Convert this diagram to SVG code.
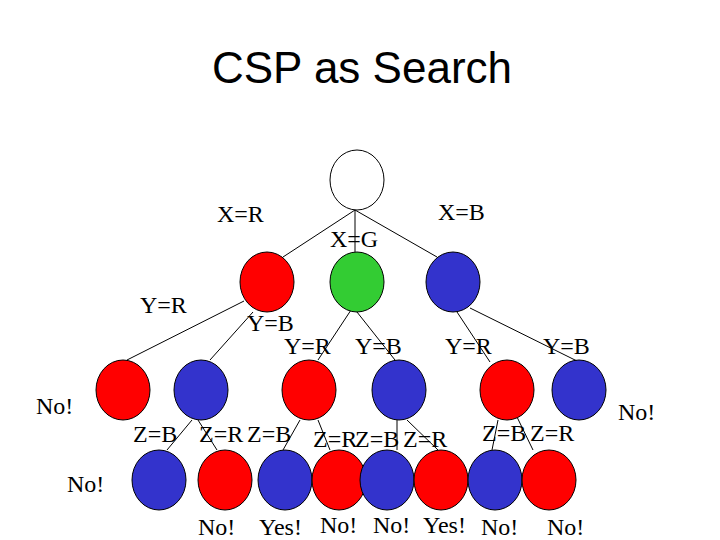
<svg xmlns="http://www.w3.org/2000/svg" width="720" height="540" viewBox="0 0 720 540">
<style>
.n{stroke:#000;stroke-width:1}
.w{fill:#fff}.r{fill:#ff0000}.g{fill:#33cc33}.b{fill:#3333cc}
.e{stroke:#000;stroke-width:1;fill:none}
text{font-family:"Liberation Serif","Times New Roman",serif;font-size:24px;fill:#000}
.t{font-family:"Liberation Sans",Arial,sans-serif;font-size:44px}
</style>
<rect width="720" height="540" fill="#fff"/>
<text class="t" x="212" y="83">CSP as Search</text>
<g id="edges">
<line class="e" x1="355" y1="210" x2="283" y2="257"/>
<line class="e" x1="355" y1="210" x2="355" y2="252"/>
<line class="e" x1="355" y1="210" x2="437" y2="257"/>
<line class="e" x1="244" y1="301" x2="127" y2="360"/>
<line class="e" x1="253" y1="312" x2="210" y2="360"/>
<line class="e" x1="353" y1="307" x2="318" y2="360"/>
<line class="e" x1="353" y1="307" x2="395" y2="360"/>
<line class="e" x1="457" y1="312" x2="490" y2="362"/>
<line class="e" x1="470" y1="308" x2="577" y2="361"/>
<line class="e" x1="192" y1="420" x2="167" y2="450"/>
<line class="e" x1="198" y1="420" x2="217" y2="450"/>
<line class="e" x1="300" y1="420" x2="283" y2="450"/>
<line class="e" x1="318" y1="420" x2="330" y2="450"/>
<line class="e" x1="397" y1="420" x2="397" y2="450"/>
<line class="e" x1="407" y1="420" x2="438" y2="450"/>
<line class="e" x1="498" y1="420" x2="492" y2="450"/>
<line class="e" x1="517" y1="417" x2="533" y2="450"/>
</g>
<g id="root"><ellipse class="n w" cx="357" cy="180" rx="27" ry="30"/></g>
<g id="x_r"><ellipse class="n r" cx="267" cy="282" rx="27" ry="30"/></g>
<g id="x_g"><ellipse class="n g" cx="357" cy="282" rx="27" ry="30"/></g>
<g id="x_b"><ellipse class="n b" cx="453" cy="282" rx="27" ry="30"/></g>
<g id="l2a"><ellipse class="n r" cx="123" cy="390" rx="27" ry="30"/></g>
<g id="l2b"><ellipse class="n b" cx="201" cy="390" rx="27" ry="30"/></g>
<g id="l2c"><ellipse class="n r" cx="309" cy="390" rx="27" ry="30"/></g>
<g id="l2d"><ellipse class="n b" cx="399" cy="390" rx="27" ry="30"/></g>
<g id="l2e"><ellipse class="n r" cx="507" cy="390" rx="27" ry="30"/></g>
<g id="l2f"><ellipse class="n b" cx="579" cy="390" rx="27" ry="30"/></g>
<g id="l3a"><ellipse class="n b" cx="159" cy="480" rx="27" ry="30"/></g>
<g id="l3b"><ellipse class="n r" cx="225" cy="480" rx="27" ry="30"/></g>
<g id="l3c"><ellipse class="n b" cx="285" cy="480" rx="27" ry="30"/></g>
<g id="l3d"><ellipse class="n r" cx="339" cy="480" rx="27" ry="30"/></g>
<g id="l3e"><ellipse class="n b" cx="387" cy="480" rx="27" ry="30"/></g>
<g id="l3f"><ellipse class="n r" cx="441" cy="480" rx="27" ry="30"/></g>
<g id="l3g"><ellipse class="n b" cx="495" cy="480" rx="27" ry="30"/></g>
<g id="l3h"><ellipse class="n r" cx="549" cy="480" rx="27" ry="30"/></g>
<g id="labels">
<text x="217" y="222">X=R</text>
<text x="438" y="220">X=B</text>
<text x="330" y="247">X=G</text>
<text x="140" y="313">Y=R</text>
<text x="247" y="331">Y=B</text>
<text x="284" y="354">Y=R</text>
<text x="355" y="354">Y=B</text>
<text x="445" y="354">Y=R</text>
<text x="543" y="354">Y=B</text>
<text x="36" y="414">No!</text>
<text x="618" y="420">No!</text>
<text x="67" y="492">No!</text>
<text x="133" y="442">Z=B</text>
<text x="199" y="442">Z=R</text>
<text x="247" y="442">Z=B</text>
<text x="313" y="447">Z=R</text>
<text x="355" y="447">Z=B</text>
<text x="403" y="447">Z=R</text>
<text x="482" y="441">Z=B</text>
<text x="530" y="441">Z=R</text>
<text x="198" y="535">No!</text>
<text x="259" y="535">Yes!</text>
<text x="320" y="533">No!</text>
<text x="373" y="533">No!</text>
<text x="423" y="533">Yes!</text>
<text x="481" y="535">No!</text>
<text x="547" y="535">No!</text>
</g>
</svg>
